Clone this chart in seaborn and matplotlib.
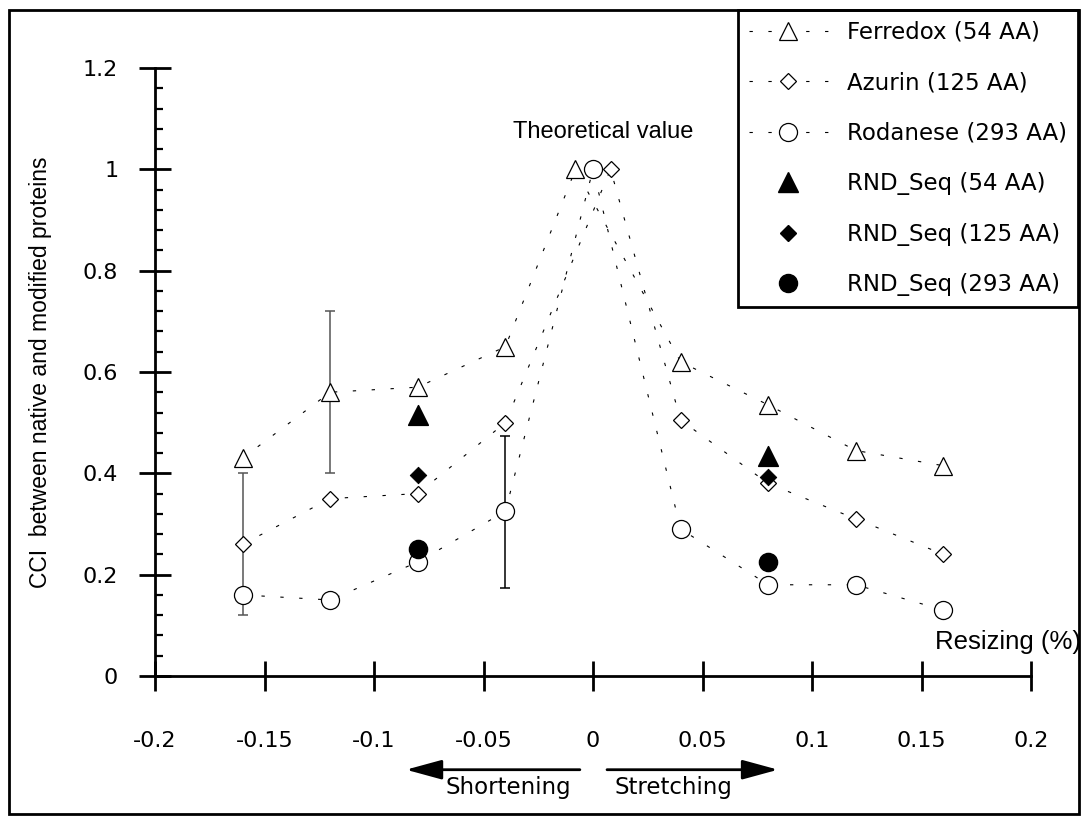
import numpy as np
import matplotlib
matplotlib.use("Agg")
import matplotlib.pyplot as plt
import seaborn as sns
from matplotlib.lines import Line2D
from matplotlib.patches import Rectangle

# ---- data ----
ferredox_x = [-0.16, -0.12, -0.08, -0.04, -0.008, 0.04, 0.08, 0.12, 0.16]
ferredox_y = [0.43, 0.56, 0.57, 0.65, 1.0, 0.62, 0.535, 0.445, 0.415]

azurin_x = [-0.16, -0.12, -0.08, -0.04, 0.008, 0.04, 0.08, 0.12, 0.16]
azurin_y = [0.26, 0.35, 0.36, 0.50, 1.0, 0.505, 0.38, 0.31, 0.24]

rodanese_x = [-0.16, -0.12, -0.08, -0.04, 0.0, 0.04, 0.08, 0.12, 0.16]
rodanese_y = [0.16, 0.15, 0.225, 0.325, 1.0, 0.29, 0.18, 0.18, 0.13]

rnd_x = [-0.08, 0.08]
rnd54_y = [0.515, 0.435]
rnd125_y = [0.397, 0.392]
rnd293_y = [0.25, 0.225]

err_x = [-0.16, -0.12, -0.04]
err_y = [0.26, 0.56, 0.323]
err_size = [0.14, 0.16, 0.15]
err_colors = ["#555555", "#555555", "black"]

x_ticks = [-0.2, -0.15, -0.1, -0.05, 0, 0.05, 0.1, 0.15, 0.2]
x_labels = ["-0.2", "-0.15", "-0.1", "-0.05", "0", "0.05", "0.1", "0.15", "0.2"]
y_ticks = [0, 0.2, 0.4, 0.6, 0.8, 1.0, 1.2]
y_labels = ["0", "0.2", "0.4", "0.6", "0.8", "1", "1.2"]

legend_labels = ["Ferredox (54 AA)", "Azurin (125 AA)", "Rodanese (293 AA)",
                 "RND_Seq (54 AA)", "RND_Seq (125 AA)", "RND_Seq (293 AA)"]

sns.set_theme(style="white")
plt.rcParams["font.family"] = ["DejaVu Sans"]
plt.rcParams["text.color"] = "black"
plt.rcParams["axes.labelcolor"] = "black"
plt.rcParams["xtick.color"] = "black"
plt.rcParams["ytick.color"] = "black"

fig = plt.figure(figsize=(10.87, 8.16), dpi=100)
ax = fig.add_axes([0.1426, 0.1716, 0.8059, 0.7451])

dots = (0, (3, 14))
line_kw = dict(color="black", lw=0.8, linestyle=dots, markerfacecolor="white",
               markeredgecolor="black", markeredgewidth=0.9, sort=False,
               estimator=None, zorder=3)

# error bars behind the markers
for xx, yy, ee, cc in zip(err_x, err_y, err_size, err_colors):
    ax.errorbar([xx], [yy], yerr=[ee], fmt="none", ecolor=cc, elinewidth=1.1,
                capsize=3.8, capthick=1.1, zorder=1)

sns.lineplot(x=ferredox_x, y=ferredox_y, ax=ax, marker="^", markersize=13, **line_kw)
sns.lineplot(x=azurin_x, y=azurin_y, ax=ax, marker="D", markersize=8, **line_kw)
sns.lineplot(x=rodanese_x, y=rodanese_y, ax=ax, marker="o", markersize=13, **line_kw)

sns.scatterplot(x=rnd_x, y=rnd54_y, ax=ax, marker="^", s=200, color="black",
                edgecolor="black", zorder=4)
sns.scatterplot(x=rnd_x, y=rnd125_y, ax=ax, marker="D", s=70, color="black",
                edgecolor="black", zorder=4)
sns.scatterplot(x=rnd_x, y=rnd293_y, ax=ax, marker="o", s=170, color="black",
                edgecolor="black", zorder=4)

ax.set_xlim(-0.2, 0.2)
ax.set_ylim(0, 1.2)
ax.set_xticks(x_ticks)
ax.set_xticklabels(x_labels, fontsize=16)
ax.set_yticks(y_ticks)
ax.set_yticklabels(y_labels, fontsize=16)
ax.set_yticks(np.arange(0, 1.2001, 0.04), minor=True)
ax.tick_params(axis="x", which="major", bottom=True, direction="inout",
               length=21.6, width=2, pad=28.5)
ax.tick_params(axis="y", which="major", left=True, direction="inout",
               length=23, width=2, pad=15)
ax.tick_params(axis="y", which="minor", left=True, direction="in", length=6, width=1.6)
ax.tick_params(axis="x", which="minor", bottom=False)

for side in ["top", "right"]:
    ax.spines[side].set_visible(False)
for side in ["left", "bottom"]:
    ax.spines[side].set_linewidth(2)
    ax.spines[side].set_color("black")

ax.set_ylabel("CCI  between native and modified proteins", fontsize=16.5,
              family="Liberation Sans")
ax.yaxis.set_label_coords(-0.1176, 0.5)

ax.text(0.0046, 1.074, "Theoretical value", fontsize=17, family="Liberation Sans",
        ha="center", va="center", clip_on=False)
ax.text(0.156, 0.067, "Resizing (%)", fontsize=18.5, family="Liberation Sans",
        ha="left", va="center", clip_on=False)

# direction arrows under the axis
arrow = dict(arrowstyle="-|>,head_length=22,head_width=6", mutation_scale=1,
             color="black", lw=2, shrinkA=0, shrinkB=0)
ax.annotate("", xy=(-0.0854, -0.185), xytext=(-0.006, -0.185),
            arrowprops=arrow, annotation_clip=False)
ax.annotate("", xy=(0.0845, -0.185), xytext=(0.0064, -0.185),
            arrowprops=arrow, annotation_clip=False)
ax.text(-0.0388, -0.221, "Shortening", fontsize=16.5, ha="center", va="center", clip_on=False)
ax.text(0.0365, -0.221, "Stretching", fontsize=16.5, ha="center", va="center", clip_on=False)

# legend
open_kw = dict(color="black", lw=0.8, linestyle=dots, markerfacecolor="white",
               markeredgecolor="black", markeredgewidth=0.9)
handles = [
    Line2D([], [], marker="^", markersize=13, **open_kw),
    Line2D([], [], marker="D", markersize=8.5, **open_kw),
    Line2D([], [], marker="o", markersize=13, **open_kw),
    Line2D([], [], marker="^", markersize=14, color="black", linestyle="none"),
    Line2D([], [], marker="D", markersize=8.5, color="black", linestyle="none"),
    Line2D([], [], marker="o", markersize=13, color="black", linestyle="none"),
]
leg = ax.legend(handles, legend_labels, loc="upper right",
                bbox_to_anchor=(0.9917, 0.9877), bbox_transform=fig.transFigure,
                borderaxespad=0, fontsize=16.5, labelspacing=1.2, borderpad=0.47,
                handlelength=3.45, handletextpad=0.85, numpoints=1,
                fancybox=False, shadow=False, framealpha=1)
leg.get_frame().set_linewidth(2)
leg.get_frame().set_edgecolor("black")

# border around the whole figure
fig.patches.append(Rectangle((0.0083, 0.002), 0.9844, 0.9857, transform=fig.transFigure,
                             fill=False, lw=2, ec="black"))

fig.savefig("out.png", dpi=100)
